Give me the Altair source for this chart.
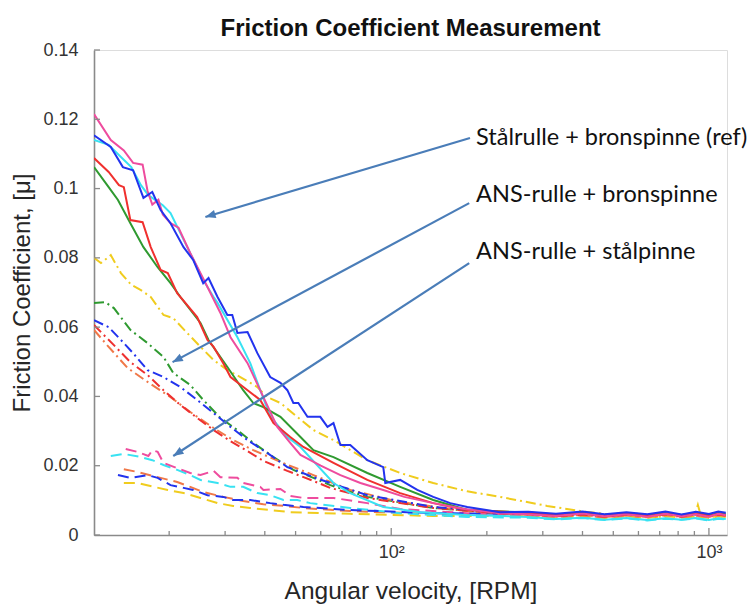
import math
import altair as alt
import pandas as pd

# ---------------- axes ----------------
X_DOMAIN = [11.6, 1140]
Y_DOMAIN = [0, 0.14]
W, H = 633, 485
Y_TICKS = [0, 0.02, 0.04, 0.06, 0.08, 0.1, 0.12, 0.14]
X_LABEL_TICKS = [100, 1000]
X_MINOR_TICKS = [20, 30, 40, 50, 60, 70, 80, 90, 200, 300, 400, 500, 600, 700, 800, 900]

# shared tail (high-RPM plateau) sample positions
TAIL_X = [270, 330, 400, 470, 550, 640, 730, 820, 910, 1000, 1070, 1130]

# ---------------- solid lines: Stålrulle + bronspinne (ref) ----------------
mag_s_x = [11.6, 13.1, 14.4, 15.4, 16.5, 17.1, 17.7, 18.5, 19.1, 20.2, 21.4, 23.3, 25.1, 26.4, 29.0, 31.2,
           35.3, 39.6, 43.8, 48.1, 51.8, 60, 69.2, 80, 94.4, 110, 135.6, 170, 220]
mag_s_y = [0.1215, 0.114, 0.111, 0.1074, 0.1069, 0.0993, 0.0954, 0.0968, 0.0925, 0.090, 0.0887, 0.0814,
           0.0756, 0.0716, 0.0641, 0.0571, 0.0496, 0.0398, 0.0312, 0.0266, 0.0231, 0.020, 0.0173, 0.015,
           0.0130, 0.011, 0.0092, 0.0075, 0.0063]
mag_s_t = [0.0060, 0.0055, 0.0062, 0.0054, 0.0060, 0.0053, 0.0061, 0.0054, 0.0060, 0.0053, 0.0061, 0.0057]

blu_s_x = [11.6, 13.1, 14.3, 15.4, 16.6, 17.7, 18.8, 20.2, 22.2, 23.8, 25.6, 26.6, 28.4, 30.5, 31.6, 32.8,
           35.3, 37.9, 41.6, 44.8, 47.1, 49.2, 51.0, 54.5, 59.8, 63.0, 65.8, 69.2, 74.3, 84.1, 94.4, 95.8,
           106.7, 120.8, 135.6, 153.4, 173.5, 220]
blu_s_y = [0.1154, 0.112, 0.1062, 0.1053, 0.0973, 0.0990, 0.0938, 0.0900, 0.0831, 0.0794, 0.0727, 0.0742,
           0.0687, 0.0635, 0.0635, 0.0583, 0.0586, 0.0525, 0.0456, 0.0439, 0.0418, 0.0381, 0.0381, 0.0341,
           0.0341, 0.0312, 0.0323, 0.026, 0.026, 0.0216, 0.0196, 0.0150, 0.0159, 0.0130, 0.011, 0.0092,
           0.0081, 0.0066]
blu_s_t = [0.0067, 0.0061, 0.0068, 0.0060, 0.0066, 0.0060, 0.0068, 0.0059, 0.0067, 0.0061, 0.0068, 0.0064]

cyn_s_x = [11.6, 12.9, 14.1, 15.2, 16.3, 17.2, 19.1, 20.2, 22.8, 24.5, 25.6, 27.6, 28.4, 32.8, 36.0, 38.7,
           41.6, 47.1, 51.8, 65.8, 74.3, 94.4, 123.4, 173.5]
cyn_s_y = [0.114, 0.1126, 0.1091, 0.1062, 0.101, 0.0981, 0.0952, 0.0929, 0.0831, 0.0773, 0.0736, 0.0687,
           0.067, 0.0571, 0.0496, 0.0418, 0.0343, 0.0283, 0.0254, 0.015, 0.0121, 0.0081, 0.0066, 0.0058]
cyn_s_t = [0.0052, 0.0046, 0.0050, 0.0044, 0.0049, 0.0043, 0.0048, 0.0044, 0.0049, 0.0043, 0.0048, 0.0046]

red_s_x = [11.6, 12.9, 13.9, 14.4, 15.1, 16.5, 17.5, 18.8, 19.8, 21.2, 24.5, 26.4, 27.6, 29.6, 31.2, 35.3,
           38.7, 42.6, 48.1, 52.9, 65.8, 84.1, 106.7, 135.6, 173.5]
red_s_y = [0.1088, 0.1048, 0.101, 0.1004, 0.0909, 0.0903, 0.0831, 0.0765, 0.0756, 0.0698, 0.0629, 0.0563,
           0.0543, 0.0496, 0.0456, 0.0418, 0.039, 0.0323, 0.0283, 0.0254, 0.0208, 0.0159, 0.0121, 0.0092,
           0.0072]
red_s_t = [0.0064, 0.0057, 0.0063, 0.0055, 0.0062, 0.0055, 0.0061, 0.0056, 0.0062, 0.0055, 0.0061, 0.0058]

grn_s_x = [11.6, 12.9, 13.8, 15.1, 16.6, 18.4, 20.2, 21.7, 25.1, 26.6, 30.5, 34.2, 36.8, 39.6, 44.8, 51.8,
           56.9, 65.8, 84.1, 106.7, 135.6, 173.5]
grn_s_y = [0.1062, 0.1004, 0.0967, 0.090, 0.0831, 0.0773, 0.0727, 0.0687, 0.0612, 0.0563, 0.0485, 0.0418,
           0.0381, 0.0369, 0.0341, 0.0283, 0.0245, 0.0225, 0.0179, 0.0139, 0.0101, 0.0072]
grn_s_t = [0.0065, 0.0059, 0.0064, 0.0058, 0.0063, 0.0057, 0.0063, 0.0058, 0.0064, 0.0057, 0.0063, 0.0060]

# ---------------- dash-dot lines: ANS-rulle + bronspinne ----------------
yel_dd_x = [11.6, 12.2, 13.1, 14.1, 15.2, 16.3, 17.5, 19.2, 20.6, 22.8, 25.1, 27.6, 30.5, 33.5, 37.9, 40.7,
            44.8, 50.6, 56.9, 65.8, 84.1, 106.7, 135.6, 173.5, 220, 309.5, 401.7, 499, 652,
            730, 820, 900, 923, 945, 1000, 1070, 1130]
yel_dd_y = [0.080, 0.0785, 0.0808, 0.0756, 0.0722, 0.0707, 0.0687, 0.0635, 0.0626, 0.0583, 0.0543, 0.0505,
            0.0476, 0.0456, 0.0427, 0.0398, 0.0381, 0.0341, 0.0303, 0.0274, 0.0216, 0.0179, 0.015, 0.0126,
            0.011, 0.0084, 0.0068, 0.0058, 0.0053, 0.0053, 0.0056, 0.0052, 0.0087, 0.0053, 0.0055, 0.0052,
            0.0054]

grn_dd_x = [11.6, 12.6, 13.4, 15.1, 17.1, 19.2, 20.6, 23.3, 25.6, 29.0, 32.8, 36.8, 42.6, 49.2, 56.9, 64.3,
            84.1, 135.6, 220]
grn_dd_y = [0.067, 0.0672, 0.0655, 0.0592, 0.0554, 0.0514, 0.0468, 0.0433, 0.039, 0.0338, 0.0303, 0.0266,
            0.0225, 0.0188, 0.0165, 0.0144, 0.011, 0.0078, 0.0063]
grn_dd_t = [0.0062, 0.0057, 0.0063, 0.0056, 0.0061, 0.0055, 0.0062, 0.0056, 0.0061, 0.0055, 0.0061, 0.0058]

blu_dd_x = [11.6, 12.9, 14.1, 15.4, 17.1, 19.2, 21.7, 24.5, 27.6, 31.2, 35.3, 40.7, 47.1, 56.9, 64.3, 84.1,
            135.6, 220]
blu_dd_y = [0.062, 0.060, 0.0563, 0.0525, 0.0476, 0.0456, 0.0427, 0.039, 0.0352, 0.0312, 0.0274, 0.0237,
            0.0196, 0.0167, 0.015, 0.0115, 0.0081, 0.0066]
blu_dd_t = [0.0064, 0.0058, 0.0063, 0.0057, 0.0064, 0.0058, 0.0063, 0.0057, 0.0064, 0.0058, 0.0063, 0.0060]

red_dd_x = [11.6, 13.4, 15.1, 17.1, 19.2, 21.7, 24.5, 27.6, 31.2, 35.3, 39.6, 47.1, 56.9, 64.3, 84.1, 135.6, 220]
red_dd_y = [0.0606, 0.0548, 0.0499, 0.0462, 0.0418, 0.0375, 0.0338, 0.0303, 0.0271, 0.0242, 0.0214, 0.0185,
            0.0156, 0.0136, 0.0107, 0.0078, 0.0063]
red_dd_t = [0.0060, 0.0054, 0.0059, 0.0053, 0.0059, 0.0054, 0.0060, 0.0053, 0.0059, 0.0054, 0.0059, 0.0056]

org_dd_x = [11.6, 12.9, 14.8, 17.1, 20.2, 23.3, 27.6, 31.8, 36.8, 44.8, 56.9, 74.3, 106.7, 173.5]
org_dd_y = [0.0592, 0.0543, 0.0482, 0.0442, 0.0398, 0.0355, 0.0309, 0.0274, 0.0245, 0.0211, 0.0173, 0.013,
            0.0095, 0.0069]
org_dd_t = [0.0058, 0.0053, 0.0058, 0.0052, 0.0057, 0.0052, 0.0058, 0.0052, 0.0057, 0.0053, 0.0058, 0.0055]

# ---------------- dashed lines: ANS-rulle + stålpinne ----------------
mag_d_x = [14.6, 15.9, 17.2, 17.7, 18.4, 19.2, 21.2, 23.3, 25.1, 27.6, 29.0, 32.8, 34.2, 38.7, 39.6, 44.8,
           48.1, 52.9, 65.8, 84.1, 106.7, 173.5]
mag_d_y = [0.0248, 0.024, 0.0228, 0.0245, 0.024, 0.0208, 0.0193, 0.0179, 0.0173, 0.0185, 0.0167, 0.0165,
           0.015, 0.0139, 0.013, 0.0133, 0.0113, 0.0107, 0.0107, 0.0092, 0.0075, 0.0063]
mag_d_t = [0.0059, 0.0054, 0.0059, 0.0053, 0.0058, 0.0053, 0.0059, 0.0054, 0.0058, 0.0053, 0.0059, 0.0056]

cyn_d_x = [13.1, 14.4, 16.3, 17.7, 19.2, 21.2, 23.3, 25.1, 28.4, 31.2, 34.2, 37.9, 41.6, 45.8, 50.6, 55.6,
           74.3, 106.7, 173.5]
cyn_d_y = [0.0228, 0.0234, 0.0225, 0.0216, 0.0202, 0.0188, 0.0173, 0.0159, 0.015, 0.0139, 0.0139, 0.0121,
           0.0115, 0.0101, 0.0101, 0.0092, 0.0078, 0.0063, 0.0052]
cyn_d_t = [0.0050, 0.0045, 0.0049, 0.0043, 0.0048, 0.0042, 0.0047, 0.0044, 0.0048, 0.0042, 0.0047, 0.0045]

org_d_x = [14.4, 15.9, 18.4, 21.2, 23.3, 25.6, 29.6, 34.2, 39.6, 45.8, 52.9, 74.3, 135.6]
org_d_y = [0.019, 0.0182, 0.0167, 0.0153, 0.0139, 0.0124, 0.011, 0.0098, 0.0089, 0.0084, 0.0078, 0.0069, 0.0061]
org_d_t = [0.0057, 0.0052, 0.0057, 0.0051, 0.0056, 0.0051, 0.0057, 0.0052, 0.0056, 0.0051, 0.0057, 0.0054]

blu_d_x = [13.8, 15.1, 17.1, 18.4, 20.2, 22.2, 23.8, 26.4, 29.6, 31.8, 36.0, 41.6, 45.8, 52.9, 74.3, 135.6]
blu_d_y = [0.0173, 0.0165, 0.0173, 0.0165, 0.0144, 0.0136, 0.013, 0.0115, 0.011, 0.0101, 0.0101, 0.0092,
           0.0087, 0.0081, 0.0072, 0.0063]
blu_d_t = [0.0061, 0.0056, 0.0061, 0.0055, 0.0060, 0.0055, 0.0061, 0.0056, 0.0060, 0.0055, 0.0061, 0.0058]

yel_d_x = [14.4, 15.9, 17.9, 19.8, 22.2, 25.1, 28.4, 31.8, 36.0, 41.6, 48.1, 74.3, 135.6]
yel_d_y = [0.015, 0.015, 0.0139, 0.013, 0.0121, 0.0107, 0.0092, 0.0084, 0.0078, 0.0072, 0.0066, 0.0061, 0.0055]
yel_d_t = [0.0055, 0.0050, 0.0054, 0.0049, 0.0054, 0.0049, 0.0055, 0.0050, 0.0054, 0.0049, 0.0054, 0.0052]

# ---------------- annotations ----------------
ANN_LABELS = ["Stålrulle + bronspinne (ref)", "ANS-rulle + bronspinne", "ANS-rulle + stålpinne"]
ANN_RPM = [185, 185, 185]
ANN_MU = [0.1146, 0.0981, 0.0817]
ARROW_TAIL_RPM = [177, 176, 176]
ARROW_TAIL_MU = [0.1146, 0.0958, 0.0785]
ARROW_TIP_RPM = [26.0, 20.5, 20.6]
ARROW_TIP_MU = [0.0918, 0.0499, 0.0228]

# ---------------- build table ----------------
SERIES = [
    # id, style, color, x, y, tail
    ("s_cyan", "solid", "#38E2F2", cyn_s_x, cyn_s_y, cyn_s_t),
    ("s_green", "solid", "#2F9A30", grn_s_x, grn_s_y, grn_s_t),
    ("s_red", "solid", "#F0302E", red_s_x, red_s_y, red_s_t),
    ("s_magenta", "solid", "#EE4C9E", mag_s_x, mag_s_y, mag_s_t),
    ("s_blue", "solid", "#2233EE", blu_s_x, blu_s_y, blu_s_t),
    ("dd_yellow", "dashdot", "#F0CC1E", yel_dd_x, yel_dd_y, None),
    ("dd_green", "dashdot", "#2F9A30", grn_dd_x, grn_dd_y, grn_dd_t),
    ("dd_orange", "dashdot", "#F07848", org_dd_x, org_dd_y, org_dd_t),
    ("dd_red", "dashdot", "#EE3030", red_dd_x, red_dd_y, red_dd_t),
    ("dd_blue", "dashdot", "#2233EE", blu_dd_x, blu_dd_y, blu_dd_t),
    ("d_yellow", "dashed", "#F0CC1E", yel_d_x, yel_d_y, yel_d_t),
    ("d_orange", "dashed", "#F07848", org_d_x, org_d_y, org_d_t),
    ("d_cyan", "dashed", "#38E2F2", cyn_d_x, cyn_d_y, cyn_d_t),
    ("d_magenta", "dashed", "#EE4C9E", mag_d_x, mag_d_y, mag_d_t),
    ("d_blue", "dashed", "#2233EE", blu_d_x, blu_d_y, blu_d_t),
]

rows = []
for sid, style, color, xs, ys, tail in SERIES:
    xx = list(xs) + (TAIL_X if tail else [])
    yy = list(ys) + (list(tail) if tail else [])
    for i, (a, b) in enumerate(zip(xx, yy)):
        rows.append({"rpm": a, "mu": b, "sid": sid, "style": style, "ord": i})
df = pd.DataFrame(rows)

ids = [s[0] for s in SERIES]
cols = [s[2] for s in SERIES]

FONT = "Liberation Sans"
xscale = alt.Scale(type="log", domain=X_DOMAIN, nice=False)
yscale = alt.Scale(domain=Y_DOMAIN, nice=False)

x_axis = alt.Axis(
    values=X_LABEL_TICKS, labelExpr="datum.value == 100 ? '10²' : '10³'",
    ticks=False, grid=False, domainColor="#8a8a8a", domainWidth=1.6,
    labelFont=FONT, labelFontSize=18, labelColor="#333333", labelPadding=8,
    title="Angular velocity, [RPM]", titleFont=FONT, titleFontSize=24.5, titleFontWeight="normal",
    titleColor="#262626", titleX=W / 2, titleY=56, titleBaseline="middle", titleAlign="center",
)
y_axis = alt.Axis(
    values=Y_TICKS, format="~g", ticks=False, grid=False, domainColor="#8a8a8a", domainWidth=1.6,
    labelFont=FONT, labelFontSize=18, labelColor="#333333", labelPadding=16,
    title="Friction Coefficient, [μ]", titleFont=FONT, titleFontSize=24, titleFontWeight="normal",
    titleColor="#262626", titleX=-72, titleY=H / 2, titleAngle=270, titleBaseline="middle",
    titleAlign="center",
)

X = alt.X("rpm:Q", scale=xscale, axis=x_axis)
Y = alt.Y("mu:Q", scale=yscale, axis=y_axis)
color = alt.Color("sid:N", scale=alt.Scale(domain=ids, range=cols), legend=None)

DASH = {"solid": None, "dashdot": [10, 4, 2, 4], "dashed": [11, 6]}
layers = []
for style in ["dashed", "dashdot", "solid"]:
    sub = df[df["style"] == style]
    kw = {"strokeWidth": 2, "clip": True}
    if DASH[style]:
        kw["strokeDash"] = DASH[style]
    layers.append(
        alt.Chart(sub).mark_line(**kw).encode(x=X, y=Y, color=color, detail="sid:N", order="ord:Q")
    )

# inward ticks
xt_minor = pd.DataFrame({"rpm": X_MINOR_TICKS})
xt_major = pd.DataFrame({"rpm": X_LABEL_TICKS})
yt = pd.DataFrame({"mu": Y_TICKS})
tick_color = "#8a8a8a"
layers.append(alt.Chart(xt_minor).mark_rule(color=tick_color, strokeWidth=1.3).encode(
    x=X, y=alt.value(H), y2=alt.value(H - 4)))
layers.append(alt.Chart(xt_major).mark_rule(color=tick_color, strokeWidth=1.3).encode(
    x=X, y=alt.value(H), y2=alt.value(H - 7)))
layers.append(alt.Chart(yt).mark_rule(color=tick_color, strokeWidth=1.3).encode(
    y=Y, x=alt.value(0), x2=alt.value(6)))

# arrows
def px(r):
    return (math.log10(r) - math.log10(X_DOMAIN[0])) / (math.log10(X_DOMAIN[1]) - math.log10(X_DOMAIN[0])) * W

def py(m):
    return H - (m - Y_DOMAIN[0]) / (Y_DOMAIN[1] - Y_DOMAIN[0]) * H

arr = pd.DataFrame({
    "rpm": ARROW_TAIL_RPM, "mu": ARROW_TAIL_MU,
    "rpm2": ARROW_TIP_RPM, "mu2": ARROW_TIP_MU,
})
arr["ang"] = [
    math.degrees(math.atan2(py(m2) - py(m1), px(r2) - px(r1))) % 360
    for r1, m1, r2, m2 in zip(ARROW_TAIL_RPM, ARROW_TAIL_MU, ARROW_TIP_RPM, ARROW_TIP_MU)
]
ARROW_COLOR = "#4A7DB8"
layers.append(alt.Chart(arr).mark_rule(color=ARROW_COLOR, strokeWidth=2.2).encode(
    x=X, y=Y, x2="rpm2:Q", y2="mu2:Q"))
heads = pd.DataFrame({"rpm": ARROW_TIP_RPM, "mu": ARROW_TIP_MU, "ang": arr["ang"]})
layers.append(alt.Chart(heads).mark_point(
    shape="M 0 0 L -1 -0.4 L -1 0.4 Z", filled=True, size=420, color=ARROW_COLOR, opacity=1
).encode(x=X, y=Y, angle=alt.Angle("ang:Q", scale=None)))

ann = pd.DataFrame({"rpm": ANN_RPM, "mu": ANN_MU, "label": ANN_LABELS})
layers.append(alt.Chart(ann).mark_text(
    align="left", baseline="middle", font="Lato", fontSize=23.5, color="#111111"
).encode(x=X, y=Y, text="label:N"))

chart = alt.layer(*layers).properties(
    width=W, height=H,
    padding={"left": 94, "top": 50, "right": 28, "bottom": 72},
    autosize="none",
    title=alt.TitleParams(
        "Friction Coefficient Measurement", font=FONT, fontSize=24, fontWeight="bold",
        color="#111111", anchor="middle", offset=0,
    ),
).configure_view(stroke=None).configure(background="white")

chart.save("out.html", embed_options={"renderer": "svg", "actions": False})
